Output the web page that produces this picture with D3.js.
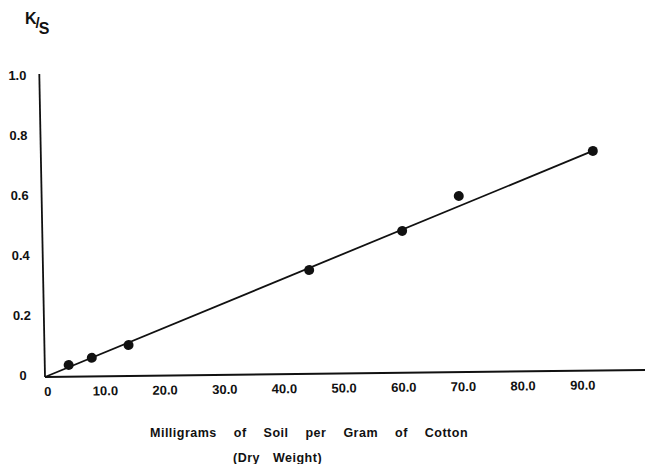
<!DOCTYPE html>
<html lang="en">
  <head>
    <meta charset="UTF-8" />
    <title>K/S vs soil</title>
    <script src="https://d3js.org/d3.v7.min.js"></script>
    <style>
      body {
        margin: 0;
        background: #fff;
      }
      text {
        font-family: "Liberation Sans", Arial, sans-serif;
        font-weight: bold;
        fill: #111;
      }
    </style>
  </head>
  <body>
    <svg width="645" height="464"></svg>
    <script>
      // data
      var soilMg = [4.0, 7.9, 14.1, 44.6, 60.3, 69.9, 92.5];
      var ksValues = [0.039, 0.062, 0.103, 0.346, 0.473, 0.587, 0.732];
      var fitX = [0, 92.5];
      var fitY = [0, 0.732];
      var xTicks = [0, 10, 20, 30, 40, 50, 60, 70, 80, 90];
      var xTickLabels = ["0", "10.0", "20.0", "30.0", "40.0", "50.0", "60.0", "70.0", "80.0", "90.0"];
      var yTicks = [0, 0.2, 0.4, 0.6, 0.8, 1.0];
      var yTickLabels = ["0", "0.2", "0.4", "0.6", "0.8", "1.0"];

      var svg = d3.select("svg");

      var xScale = d3.scaleLinear().domain([0, 90]).range([0, 537]);
      var yScale = d3.scaleLinear().domain([0, 1]).range([0, -300]);

      // the scanned figure is slightly skewed, so the plot group is too
      var g = svg
        .append("g")
        .attr("transform", "translate(45,377) matrix(1,-0.0117,0.0188,1,0,0)");

      // axes, drawn as plain lines like the original (no tick marks)
      g.append("line")
        .attr("x1", 0)
        .attr("y1", 0)
        .attr("x2", 602)
        .attr("y2", 0)
        .attr("stroke", "#111")
        .attr("stroke-width", 2);

      g.append("line")
        .attr("x1", 0)
        .attr("y1", 0)
        .attr("x2", 0)
        .attr("y2", yScale(1.01))
        .attr("stroke", "#111")
        .attr("stroke-width", 1.8);

      var xAxis = d3
        .axisBottom(xScale)
        .tickValues(xTicks)
        .tickSize(0)
        .tickPadding(0)
        .tickFormat(function (d, i) {
          return xTickLabels[i];
        });

      var xg = g.append("g").call(xAxis);
      xg.select(".domain").remove();
      xg.selectAll("text")
        .attr("y", 19)
        .attr("dy", 0)
        .attr("dx", function (d) {
          return d === 0 ? 2 : 0;
        })
        .style("font-size", "13px")
        .style("font-family", "'Liberation Sans', Arial, sans-serif")
        .style("font-weight", "bold")
        .attr("fill", "#111");

      var yAxis = d3
        .axisLeft(yScale)
        .tickValues(yTicks)
        .tickSize(0)
        .tickPadding(0)
        .tickFormat(function (d, i) {
          return yTickLabels[i];
        });

      var yg = g.append("g").call(yAxis);
      yg.select(".domain").remove();
      yg.selectAll("text")
        .attr("x", -22)
        .attr("dy", "0.32em")
        .attr("text-anchor", "middle")
        .attr("transform", "translate(0,-2)")
        .style("font-size", "13px")
        .style("font-family", "'Liberation Sans', Arial, sans-serif")
        .style("font-weight", "bold")
        .attr("fill", "#111");

      // fitted line
      var line = d3
        .line()
        .x(function (d) {
          return xScale(d[0]);
        })
        .y(function (d) {
          return yScale(d[1]);
        });

      g.append("path")
        .datum(d3.zip(fitX, fitY))
        .attr("d", line)
        .attr("fill", "none")
        .attr("stroke", "#111")
        .attr("stroke-width", 1.8);

      g.selectAll(".dot")
        .data(d3.zip(soilMg, ksValues))
        .enter()
        .append("circle")
        .attr("class", "dot")
        .attr("cx", function (d) {
          return xScale(d[0]);
        })
        .attr("cy", function (d) {
          return yScale(d[1]);
        })
        .attr("r", 5)
        .attr("fill", "#111");

      // y axis title K/S
      var ks = svg.append("text").attr("x", 25).attr("y", 24).style("font-size", "16px");
      ks.append("tspan").text("K");
      ks.append("tspan").attr("dx", -1).attr("dy", 4).style("font-size", "15px").text("/");
      ks.append("tspan").attr("dx", -1).attr("dy", 6).text("S");

      // x axis title
      svg
        .append("text")
        .attr("x", 150)
        .attr("y", 437)
        .style("font-size", "12.5px")
        .style("letter-spacing", "0.5px")
        .style("word-spacing", "13px")
        .text("Milligrams of Soil per Gram of Cotton");

      svg
        .append("text")
        .attr("x", 233)
        .attr("y", 462)
        .style("font-size", "12.5px")
        .style("letter-spacing", "0.5px")
        .style("word-spacing", "9px")
        .text("(Dry Weight)");
    </script>
  </body>
</html>
